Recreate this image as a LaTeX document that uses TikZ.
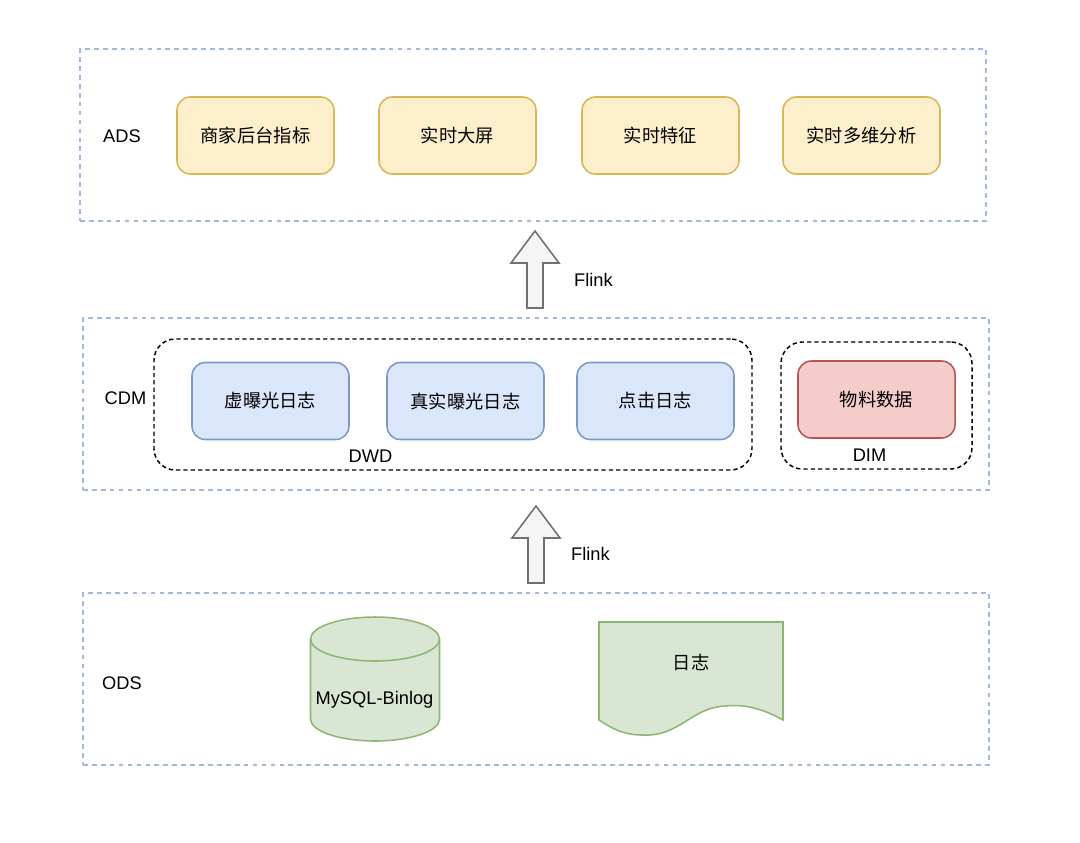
\documentclass[tikz,border=0pt]{standalone}
\usepackage{fontspec}
\setmainfont{Liberation Sans}
\newfontfamily\cjk{Noto Sans CJK SC}
\tikzset{
    layerbox/.style={draw=layerline, line width=1pt, dash pattern=on 3.5pt off 3.2pt, inner sep=0pt, anchor=center},
    groupbox/.style={draw=black, line width=1.1pt, dash pattern=on 3.2pt off 2.3pt, rounded corners=16pt, inner sep=0pt, anchor=center},
    card/.style={draw=#1, line width=1.15pt, rounded corners=10pt, minimum width=117.75pt, minimum height=57.75pt, inner sep=0pt, font=\cjk\fontsize{13.7}{16}\selectfont},
    yellowcard/.style={card=adsline, fill=adsfill},
    bluecard/.style={card=dwdline, fill=dwdfill},
    redcard/.style={card=dimline, fill=dimfill},
    odsshape/.style={draw=odsline, fill=odsfill, line width=1.15pt},
    bigarrow/.style={draw=arrowline, fill=arrowfill, line width=1.15pt, line join=miter},
    label/.style={font=\fontsize{13.7}{16}\selectfont, inner sep=0pt},
    cjklabel/.style={font=\cjk\fontsize{13.7}{16}\selectfont, inner sep=0pt},
}
\definecolor{layerline}{HTML}{A3B8E0}
\definecolor{adsfill}{HTML}{FDEFCB}
\definecolor{adsline}{HTML}{D6B656}
\definecolor{dwdfill}{HTML}{DAE6F9}
\definecolor{dwdline}{HTML}{7C98C6}
\definecolor{dimfill}{HTML}{F4CDCB}
\definecolor{dimline}{HTML}{B85450}
\definecolor{odsfill}{HTML}{D8E6D3}
\definecolor{odsline}{HTML}{8DB573}
\definecolor{arrowfill}{HTML}{F5F5F5}
\definecolor{arrowline}{HTML}{707070}
\begin{document}
\begin{tikzpicture}[x=0.75pt, y=-0.75pt]
    \useasboundingbox (0,0) rectangle (1080,842);

    % ADS layer
    \node[layerbox, minimum width=679.5pt, minimum height=129pt] (adsframe) at (533,135) {};
    \node[label] (adslabel) at (122,136) {ADS};
    \node[yellowcard] (merchant) at (255.5,135.5) {商家后台指标};
    \node[yellowcard] (screen) at (457.5,135.5) {实时大屏};
    \node[yellowcard] (feature) at (660.5,135.5) {实时特征};
    \node[yellowcard] (olap) at (861.5,135.5) {实时多维分析};

    % Flink between CDM and ADS
    \draw[bigarrow] (535,231) -- (559,263) -- (543,263) -- (543,308) -- (527,308) -- (527,263) -- (511,263) -- cycle;
    \node[label] (flinktop) at (593.5,280) {Flink};

    % CDM layer
    \node[layerbox, minimum width=679.5pt, minimum height=129pt] (cdmframe) at (536,404) {};
    \node[label] (cdmlabel) at (125.5,398) {CDM};
    \node[groupbox, minimum width=448.5pt, minimum height=98.25pt] (dwdframe) at (453,404.5) {};
    \node[groupbox, minimum width=143.25pt, minimum height=95.25pt] (dimframe) at (876.5,405.5) {};
    \node[bluecard] (virtual) at (270.5,401) {虚曝光日志};
    \node[bluecard] (real) at (465.5,401) {真实曝光日志};
    \node[bluecard] (click) at (655.5,401) {点击日志};
    \node[redcard] (material) at (876.5,399.5) {物料数据};
    \node[label] (dwdlabel) at (370.5,456.5) {DWD};
    \node[label] (dimlabel) at (869.5,455.5) {DIM};

    % Flink between ODS and CDM
    \draw[bigarrow] (536,506) -- (560,538) -- (544,538) -- (544,583) -- (528,583) -- (528,538) -- (512,538) -- cycle;
    \node[label] (flinkbottom) at (590.5,553.5) {Flink};

    % ODS layer
    \node[layerbox, minimum width=679.5pt, minimum height=129pt] (odsframe) at (536,679) {};
    \node[label] (odslabel) at (122,683.5) {ODS};
    \draw[odsshape] (310.5,639) -- (310.5,719) arc[start angle=180, end angle=0, x radius=64.5, y radius=22] -- (439.5,639) arc[start angle=0, end angle=-180, x radius=64.5, y radius=22] -- cycle;
    \draw[odsshape, fill=none] (310.5,639) arc[start angle=180, end angle=0, x radius=64.5, y radius=22];
    \node[label] (binlog) at (374.5,699.5) {MySQL-Binlog};
    \draw[odsshape] (599,622) -- (783,622) -- (783,720) .. controls (755,704) and (735,705) .. (725,706) .. controls (690,708) and (680,737) .. (642,735) .. controls (622,735) and (610,727) .. (599,720) -- cycle;
    \node[cjklabel] (lognode) at (691,662.5) {日志};

\end{tikzpicture}
\end{document}
